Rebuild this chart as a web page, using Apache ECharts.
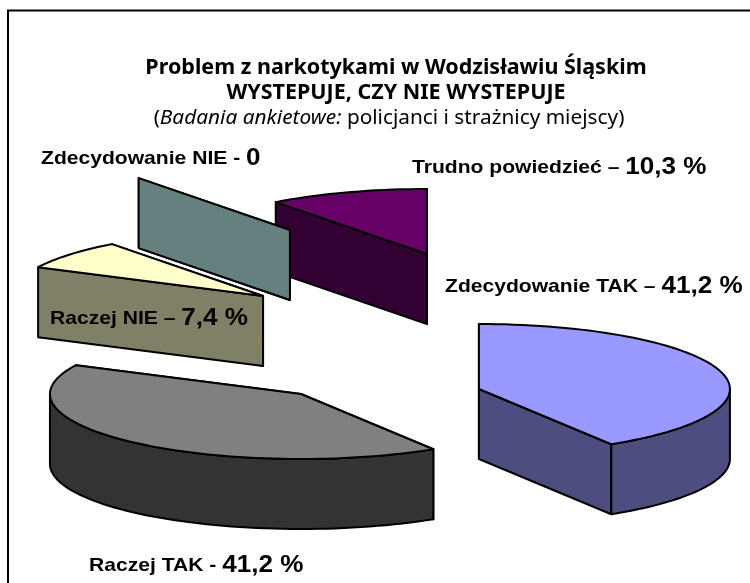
<!DOCTYPE html>
<html>
<head>
<meta charset="utf-8">
<style>
  html, body { margin: 0; padding: 0; background: #fff; }
  #chart { width: 750px; height: 583px; }
</style>
<script src="https://cdn.jsdelivr.net/npm/echarts@6/dist/echarts.min.js"></script>
</head>
<body>
<div id="chart"></div>
<script>
// dane
const categories = ['Zdecydowanie TAK', 'Raczej TAK', 'Raczej NIE', 'Zdecydowanie NIE', 'Trudno powiedzieć']
const values = [41.2, 41.2, 7.4, 0, 10.3]
const valueLabels = ['41,2 %', '41,2 %', '7,4 %', '0', '10,3 %']
const separators = ['–', '-', '–', '-', '–']

// wysuniecie wycinkow (w promieniach elipsy) i kolory
const explodeX = [0.408, -0.301, -0.452, -0.345, 0.201]
const explodeY = [-0.985, -1.062, 0.446, 1.462, 1.092]
const topColors = ['#9999FF', '#808080', '#FFFFCC', '#CCFFFF', '#660066']
const sideColors = ['#4D4D80', '#333333', '#808066', '#668080', '#330033']
const labelPos = [[445, 287], [89, 566], [50, 319], [41, 159], [412, 168]]

const total = values.reduce((a, b) => a + b, 0)
const startAngle = []
values.reduce((acc, v, i) => {
  startAngle[i] = acc / total * 2 * Math.PI
  return acc + v
}, 0)

const THICKNESS = 70
const LINE = { stroke: '#000', lineWidth: 2, lineJoin: 'round' }

function renderSlice(params, api) {
  const i = api.value(0)
  const a0 = startAngle[i]
  const a1 = a0 + values[i] / total * 2 * Math.PI
  const ox = explodeX[i]
  const oy = explodeY[i]
  // punkt na elipsie: kat od godziny 12 zgodnie z zegarem
  const rim = a => api.coord([ox + Math.sin(a), oy + Math.cos(a)])
  const apex = api.coord([ox, oy])
  const down = p => [p[0], p[1] + THICKNESS]
  const arc = (from, to) => {
    const pts = []
    const n = Math.max(1, Math.ceil((to - from) / 0.035))
    for (let k = 0; k <= n; k++) pts.push(rim(from + (to - from) * k / n))
    return pts
  }
  const poly = (points, fill) => ({
    type: 'polygon',
    shape: { points },
    style: { fill, ...LINE },
  })
  const wall = a => poly([apex, rim(a), down(rim(a)), down(apex)], sideColors[i])

  // dalsza sciana promieniowa pierwsza
  const radial = rim(a0)[1] < rim(a1)[1] ? [a0, a1] : [a1, a0]
  const children = radial.map(wall)
  // sciana zewnetrzna tylko od strony patrzacego
  const f0 = Math.max(a0, Math.PI / 2)
  const f1 = Math.min(a1, Math.PI * 3 / 2)
  if (f1 > f0) {
    const edge = arc(f0, f1)
    children.push(poly(edge.concat(edge.map(down).reverse()), sideColors[i]))
  }
  if (a1 > a0)
    children.push(poly([apex].concat(arc(a0, a1)), topColors[i]))
  return { type: 'group', children }
}

const chart = echarts.init(document.getElementById('chart'), null, { renderer: 'canvas' })

const sliceLabels = categories.map((name, i) => ({
  type: 'text',
  x: labelPos[i][0],
  y: labelPos[i][1],
  scaleX: 1.11,
  silent: true,
  z: 10,
  style: {
    text: `{n|${name} ${separators[i]} }{v|${valueLabels[i]}}`,
    verticalAlign: 'middle',
    rich: {
      n: { font: 'bold 19px "Liberation Sans", Arial, sans-serif', fill: '#000' },
      v: { font: 'bold 23.5px "Liberation Sans", Arial, sans-serif', fill: '#000' },
    },
  },
}))

chart.setOption({
  animation: false,
  backgroundColor: '#fff',
  title: {
    left: 391,
    top: 50,
    textAlign: 'center',
    text: 'Problem z narkotykami w Wodzisławiu Śląskim\nWYSTEPUJE, CZY NIE WYSTEPUJE',
    textStyle: {
      fontFamily: '"Noto Sans", sans-serif',
      fontSize: 21.5,
      fontWeight: 'bold',
      lineHeight: 25,
      color: '#000',
    },
  },
  graphic: [
    {
      // ramka widoczna tylko z lewej i od gory, reszta poza kadrem
      type: 'rect',
      silent: true,
      z: -1,
      shape: { x: 8, y: 10.5, width: 800, height: 640 },
      style: { fill: '#fff', stroke: '#000', lineWidth: 2 },
    },
    {
      type: 'text',
      x: 389,
      y: 118,
      silent: true,
      style: {
        text: '{r|(}{i|Badania ankietowe:}{r| policjanci i strażnicy miejscy)}',
        align: 'center',
        verticalAlign: 'middle',
        rich: {
          r: { font: '20.8px "Noto Sans", sans-serif', fill: '#000' },
          i: { font: 'italic 20.8px "Noto Sans", sans-serif', fill: '#000' },
        },
      },
    },
    ...sliceLabels,
  ],
  grid: { left: 0, top: 0, width: 750, height: 583 },
  xAxis: { type: 'value', min: -1.5, max: 1.488, show: false },
  yAxis: { type: 'value', min: -3.97, max: 5, show: false },
  series: [
    {
      type: 'custom',
      coordinateSystem: 'cartesian2d',
      clip: false,
      silent: true,
      renderItem: renderSlice,
      // od tylu do przodu, zeby przednie wycinki przykrywaly tylne
      data: [4, 3, 2, 1, 0].map(i => [i]),
      encode: { x: 0, y: 0 },
    },
  ],
})
</script>
</body>
</html>
